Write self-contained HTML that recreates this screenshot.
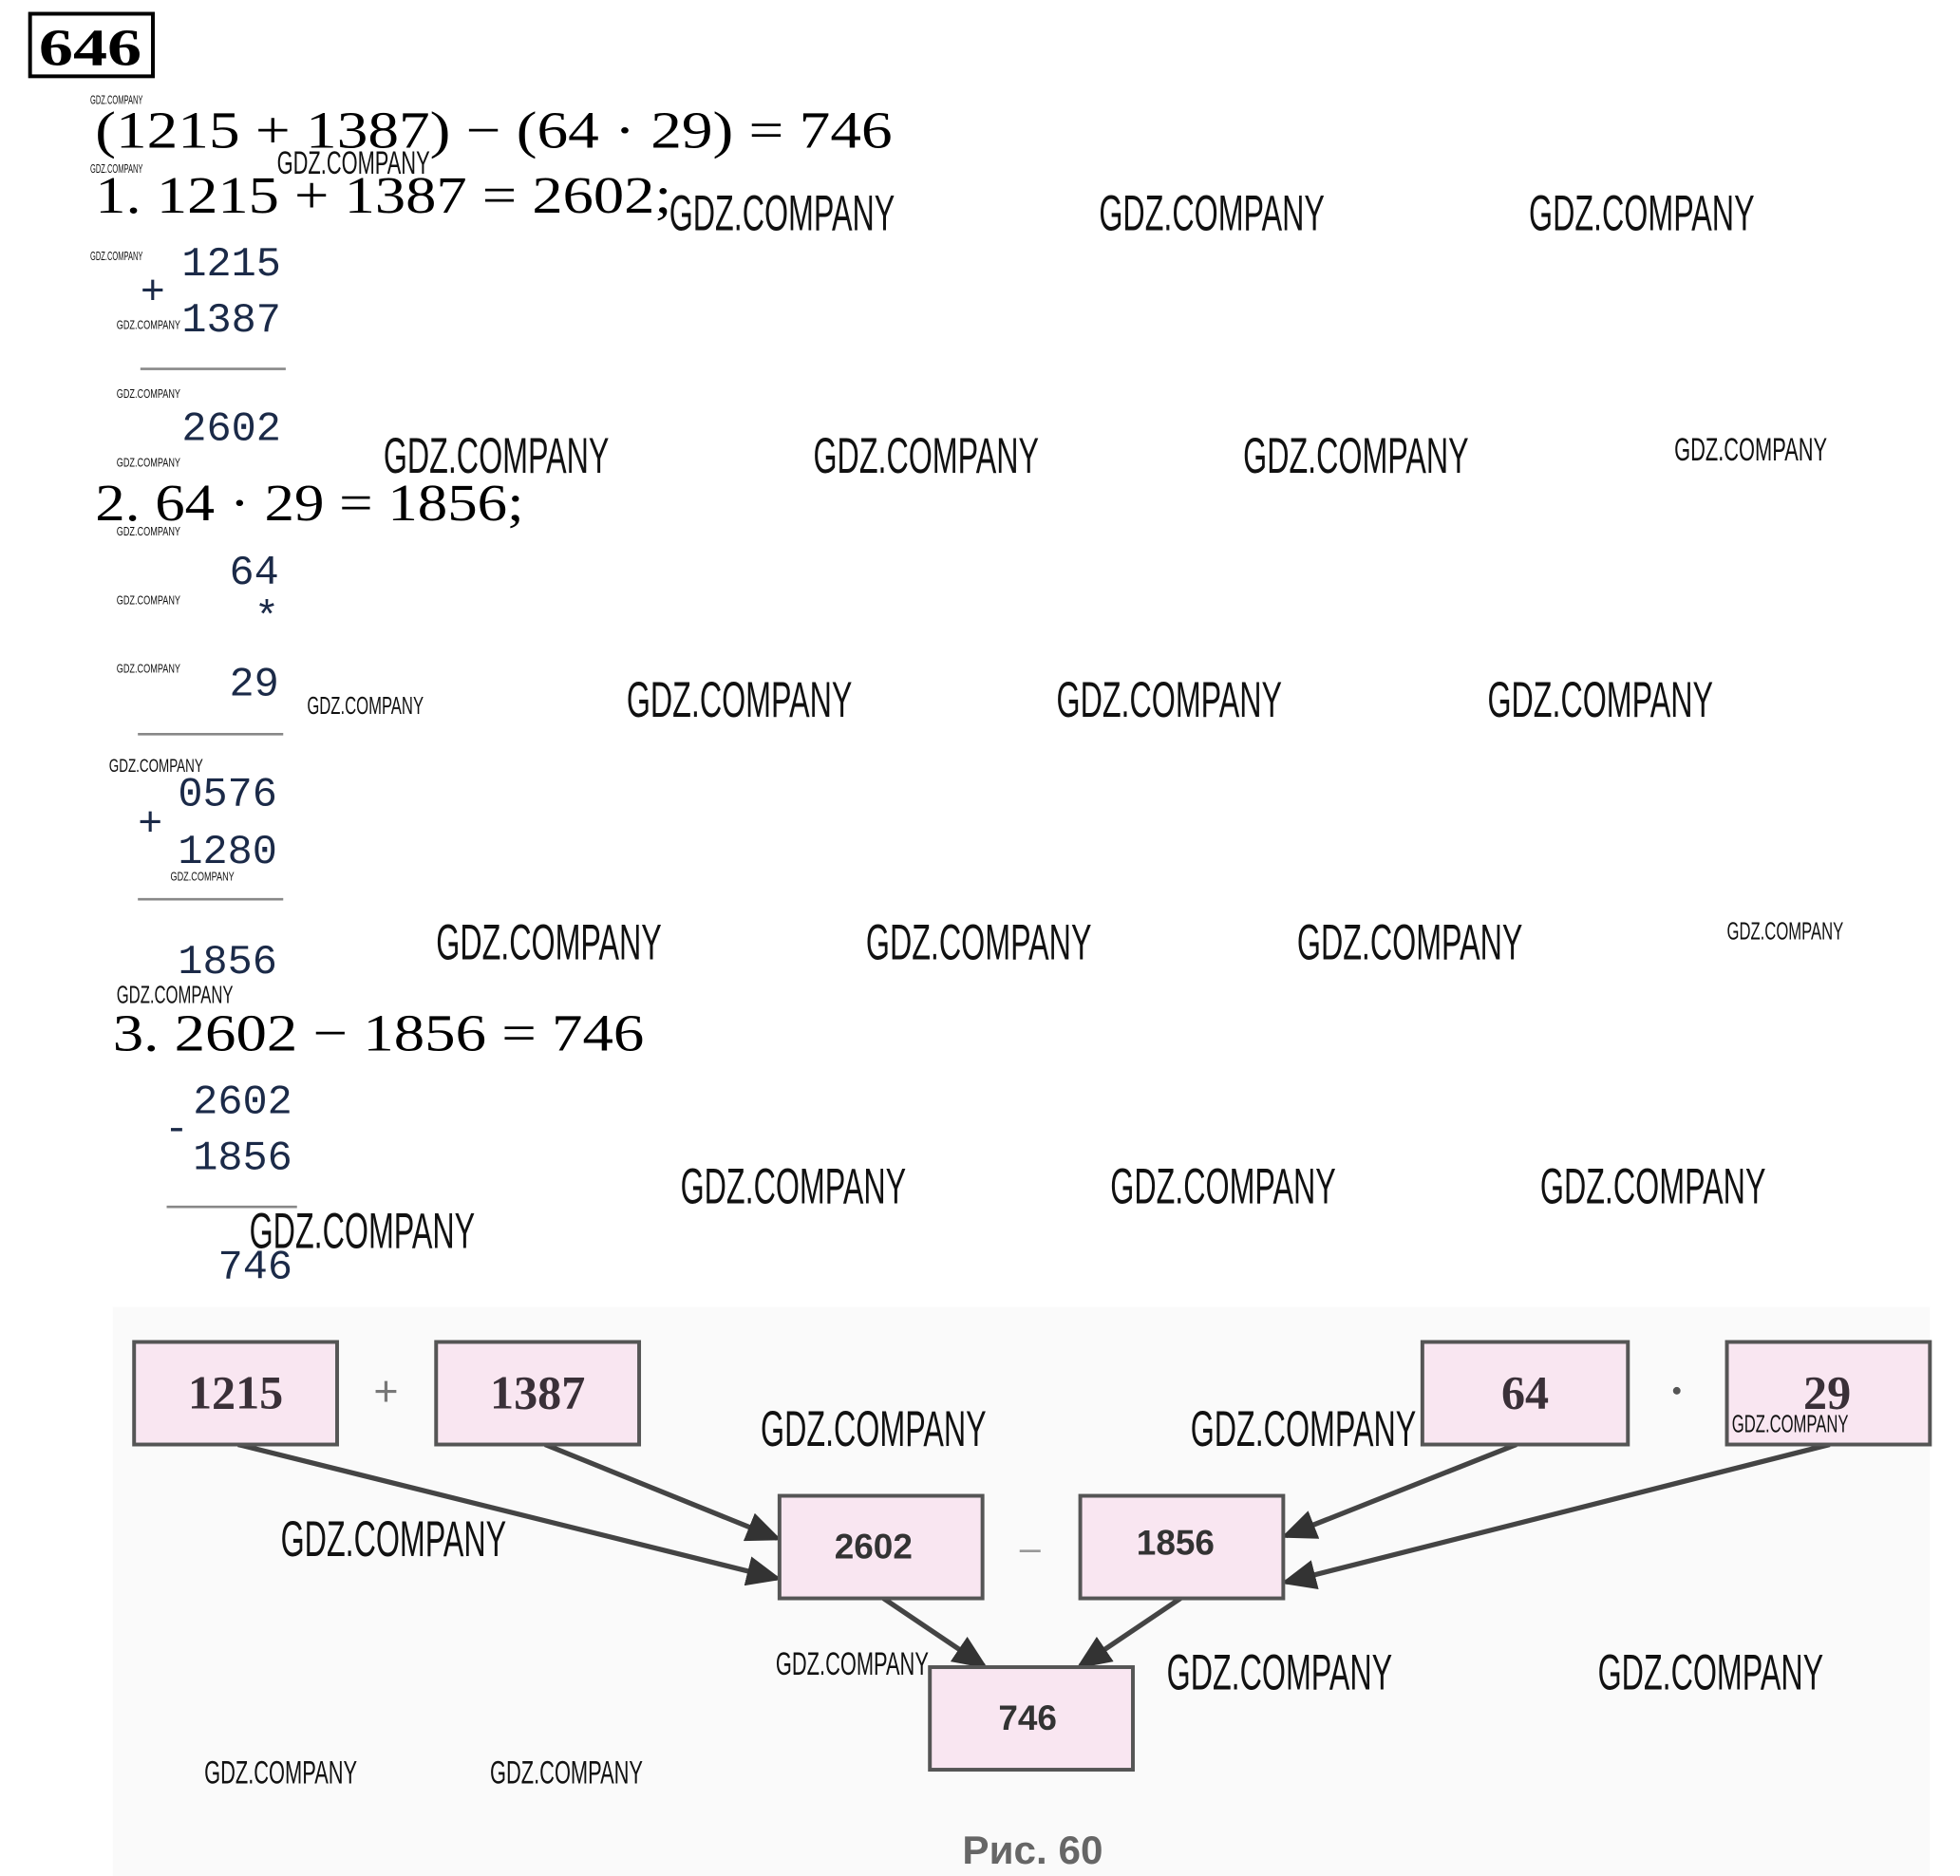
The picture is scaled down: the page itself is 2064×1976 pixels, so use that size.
<!DOCTYPE html>
<html><head><meta charset="utf-8"><style>
html,body{margin:0;padding:0;background:#fff;width:2064px;height:1976px;overflow:hidden}
svg{display:block}
.w{font-family:"Liberation Sans Narrow","Liberation Sans",sans-serif;fill:#111}
.eq{font-family:"Liberation Serif",serif;font-size:42px;fill:#000}
.m{font-family:"Liberation Mono",monospace;font-size:33px;fill:#1b2a48}
.bx{fill:#f9e6f1;stroke:#555;stroke-width:3}
.bn{font-family:"Liberation Serif",serif;font-weight:bold;font-size:38px;fill:#3a3038;text-anchor:middle}
.bs{font-family:"Liberation Sans",sans-serif;font-weight:bold;font-size:28px;fill:#333;text-anchor:middle}
.ar{stroke:#444;stroke-width:4;fill:none}
</style></head><body>
<svg width="2064" height="1976" viewBox="0 0 1564 1500" preserveAspectRatio="none" xmlns="http://www.w3.org/2000/svg">
<defs><marker id="a" markerWidth="7" markerHeight="6" refX="6" refY="3" orient="auto" markerUnits="strokeWidth"><path d="M0,0 L7,3 L0,6 Z" fill="#333"/></marker></defs>
<rect x="0" y="0" width="1564" height="1500" fill="#fff"/>
<rect x="90" y="1045" width="1450" height="455" fill="#fafafa"/>
<rect x="24" y="11" width="98" height="50" fill="none" stroke="#000" stroke-width="3"/>
<text x="31" y="52" font-family="Liberation Serif,serif" font-weight="bold" font-size="42" textLength="82" lengthAdjust="spacingAndGlyphs">646</text>

<text class="eq" x="76" y="118" textLength="636" lengthAdjust="spacingAndGlyphs">(1215 + 1387) − (64 · 29) = 746</text>
<text class="eq" x="76" y="170" textLength="460" lengthAdjust="spacingAndGlyphs">1. 1215 + 1387 = 2602;</text>
<text class="m" x="145" y="220">1215</text>
<text class="m" x="112" y="243">+</text>
<text class="m" x="145" y="265">1387</text>
<line x1="112" y1="295" x2="228" y2="295" stroke="#888" stroke-width="2"/>
<text class="m" x="145" y="352">2602</text>
<text class="eq" x="76" y="416" textLength="342" lengthAdjust="spacingAndGlyphs">2. 64 · 29 = 1856;</text>
<text class="m" x="183" y="467">64</text>
<text class="m" x="203" y="503">*</text>
<text class="m" x="183" y="556">29</text>
<line x1="110" y1="587" x2="226" y2="587" stroke="#888" stroke-width="2"/>
<text class="m" x="142" y="644">0576</text>
<text class="m" x="110" y="668">+</text>
<text class="m" x="142" y="690">1280</text>
<line x1="110" y1="719" x2="226" y2="719" stroke="#888" stroke-width="2"/>
<text class="m" x="142" y="778">1856</text>
<text class="eq" x="90" y="840" textLength="424" lengthAdjust="spacingAndGlyphs">3. 2602 − 1856 = 746</text>
<text class="m" x="154" y="890">2602</text>
<text class="m" x="131" y="912">-</text>
<text class="m" x="154" y="935">1856</text>
<line x1="133" y1="965" x2="237" y2="965" stroke="#888" stroke-width="2"/>
<text class="m" x="174" y="1022">746</text>

<!-- diagram -->
<line class="ar" x1="190" y1="1155" x2="620" y2="1262" marker-end="url(#a)"/>
<line class="ar" x1="435" y1="1155" x2="620" y2="1230" marker-end="url(#a)"/>
<line class="ar" x1="1210" y1="1155" x2="1026" y2="1228" marker-end="url(#a)"/>
<line class="ar" x1="1460" y1="1155" x2="1026" y2="1265" marker-end="url(#a)"/>
<line class="ar" x1="705" y1="1278" x2="785" y2="1332" marker-end="url(#a)"/>
<line class="ar" x1="942" y1="1278" x2="862" y2="1332" marker-end="url(#a)"/>
<rect class="bx" x="107" y="1073" width="162" height="82"/>
<rect class="bx" x="348" y="1073" width="162" height="82"/>
<rect class="bx" x="1135" y="1073" width="164" height="82"/>
<rect class="bx" x="1378" y="1073" width="162" height="82"/>
<rect class="bx" x="622" y="1196" width="162" height="82"/>
<rect class="bx" x="862" y="1196" width="162" height="82"/>
<rect class="bx" x="742" y="1333" width="162" height="82"/>
<text class="bn" x="188" y="1126">1215</text>
<text class="bn" x="429" y="1126">1387</text>
<text class="bn" x="1217" y="1126">64</text>
<text class="bn" x="1458" y="1126">29</text>
<text x="308" y="1124" font-size="34" fill="#777" text-anchor="middle" font-family="Liberation Sans,sans-serif">+</text>
<circle cx="1338" cy="1112" r="3" fill="#555"/>
<text class="bs" x="697" y="1246">2602</text>
<text class="bs" x="938" y="1243">1856</text>
<text x="822" y="1248" font-size="30" fill="#999" text-anchor="middle" font-family="Liberation Sans,sans-serif">–</text>
<text class="bs" x="820" y="1383">746</text>
<text x="824" y="1490" font-size="32" fill="#666" text-anchor="middle" font-family="Liberation Sans,sans-serif" font-weight="bold">Рис. 60</text>

<g class="w" font-size="40">
<text x="534" y="184" textLength="180" lengthAdjust="spacingAndGlyphs">GDZ.COMPANY</text>
<text x="877" y="184" textLength="180" lengthAdjust="spacingAndGlyphs">GDZ.COMPANY</text>
<text x="1220" y="184" textLength="180" lengthAdjust="spacingAndGlyphs">GDZ.COMPANY</text>
<text x="306" y="378" textLength="180" lengthAdjust="spacingAndGlyphs">GDZ.COMPANY</text>
<text x="649" y="378" textLength="180" lengthAdjust="spacingAndGlyphs">GDZ.COMPANY</text>
<text x="992" y="378" textLength="180" lengthAdjust="spacingAndGlyphs">GDZ.COMPANY</text>
<text x="500" y="573" textLength="180" lengthAdjust="spacingAndGlyphs">GDZ.COMPANY</text>
<text x="843" y="573" textLength="180" lengthAdjust="spacingAndGlyphs">GDZ.COMPANY</text>
<text x="1187" y="573" textLength="180" lengthAdjust="spacingAndGlyphs">GDZ.COMPANY</text>
<text x="348" y="767" textLength="180" lengthAdjust="spacingAndGlyphs">GDZ.COMPANY</text>
<text x="691" y="767" textLength="180" lengthAdjust="spacingAndGlyphs">GDZ.COMPANY</text>
<text x="1035" y="767" textLength="180" lengthAdjust="spacingAndGlyphs">GDZ.COMPANY</text>
<text x="543" y="962" textLength="180" lengthAdjust="spacingAndGlyphs">GDZ.COMPANY</text>
<text x="886" y="962" textLength="180" lengthAdjust="spacingAndGlyphs">GDZ.COMPANY</text>
<text x="1229" y="962" textLength="180" lengthAdjust="spacingAndGlyphs">GDZ.COMPANY</text>
<text x="199" y="998" textLength="180" lengthAdjust="spacingAndGlyphs">GDZ.COMPANY</text>
<text x="607" y="1156" textLength="180" lengthAdjust="spacingAndGlyphs">GDZ.COMPANY</text>
<text x="950" y="1156" textLength="180" lengthAdjust="spacingAndGlyphs">GDZ.COMPANY</text>
<text x="224" y="1244" textLength="180" lengthAdjust="spacingAndGlyphs">GDZ.COMPANY</text>
<text x="931" y="1351" textLength="180" lengthAdjust="spacingAndGlyphs">GDZ.COMPANY</text>
<text x="1275" y="1351" textLength="180" lengthAdjust="spacingAndGlyphs">GDZ.COMPANY</text>
</g>
<g class="w" font-size="26">
<text x="221" y="139" textLength="122" lengthAdjust="spacingAndGlyphs">GDZ.COMPANY</text>
<text x="1336" y="368" textLength="122" lengthAdjust="spacingAndGlyphs">GDZ.COMPANY</text>
<text x="619" y="1339" textLength="122" lengthAdjust="spacingAndGlyphs">GDZ.COMPANY</text>
<text x="163" y="1426" textLength="122" lengthAdjust="spacingAndGlyphs">GDZ.COMPANY</text>
<text x="391" y="1426" textLength="122" lengthAdjust="spacingAndGlyphs">GDZ.COMPANY</text>
</g>
<g class="w" font-size="20">
<text x="245" y="571" textLength="93" lengthAdjust="spacingAndGlyphs">GDZ.COMPANY</text>
<text x="1378" y="751" textLength="93" lengthAdjust="spacingAndGlyphs">GDZ.COMPANY</text>
<text x="93" y="802" textLength="93" lengthAdjust="spacingAndGlyphs">GDZ.COMPANY</text>
<text x="1382" y="1145" textLength="93" lengthAdjust="spacingAndGlyphs">GDZ.COMPANY</text>
</g>
<g class="w" font-size="15">
<text x="87" y="617" textLength="75" lengthAdjust="spacingAndGlyphs">GDZ.COMPANY</text>
</g>
<g class="w" font-size="10" fill="#444">
<text x="72" y="83" textLength="42" lengthAdjust="spacingAndGlyphs">GDZ.COMPANY</text>
<text x="72" y="138" textLength="42" lengthAdjust="spacingAndGlyphs">GDZ.COMPANY</text>
<text x="72" y="208" textLength="42" lengthAdjust="spacingAndGlyphs">GDZ.COMPANY</text>
<text x="93" y="263" textLength="51" lengthAdjust="spacingAndGlyphs">GDZ.COMPANY</text>
<text x="93" y="318" textLength="51" lengthAdjust="spacingAndGlyphs">GDZ.COMPANY</text>
<text x="93" y="373" textLength="51" lengthAdjust="spacingAndGlyphs">GDZ.COMPANY</text>
<text x="93" y="428" textLength="51" lengthAdjust="spacingAndGlyphs">GDZ.COMPANY</text>
<text x="93" y="483" textLength="51" lengthAdjust="spacingAndGlyphs">GDZ.COMPANY</text>
<text x="93" y="538" textLength="51" lengthAdjust="spacingAndGlyphs">GDZ.COMPANY</text>
<text x="136" y="704" textLength="51" lengthAdjust="spacingAndGlyphs">GDZ.COMPANY</text>
</g>
</svg>
</body></html>
